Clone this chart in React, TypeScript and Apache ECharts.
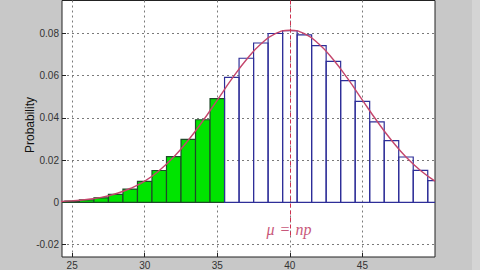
import React, { useEffect, useRef } from "react";
import * as echarts from "echarts";

// Outcomes k and their probabilities (bars)
const kValues = [24, 25, 26, 27, 28, 29, 30, 31, 32, 33, 34, 35, 36, 37, 38, 39, 40, 41, 42, 43, 44, 45, 46, 47, 48, 49, 50];
const barProbs = [0.0003, 0.0006, 0.0012, 0.0022, 0.0038, 0.0063, 0.0100, 0.0151, 0.0217, 0.0298, 0.0391, 0.0491, 0.0591, 0.0682, 0.0754, 0.0799, 0.0812, 0.0792, 0.0742, 0.0667, 0.0576, 0.0478, 0.0381, 0.0292, 0.0215, 0.0152, 0.0103];
// Smooth approximation curve values at the same k
const curveVals = [0.0004, 0.00075, 0.0014, 0.0024, 0.0041, 0.0066, 0.0101, 0.0151, 0.0215, 0.0294, 0.0385, 0.0484, 0.0584, 0.0675, 0.0749, 0.0798, 0.0814, 0.0798, 0.0749, 0.0675, 0.0584, 0.0484, 0.0385, 0.0294, 0.0215, 0.0151, 0.0101];
const shadedUpTo = 35;
const meanValue = 40;
const xTickLabels = [25, 30, 35, 40, 45];
const yTickLabels = [-0.02, 0, 0.02, 0.04, 0.06, 0.08];
const xMin = 24.3;
const xMax = 50;
const yMin = -0.0258;
const yMax = 0.0955;

export default function App() {
  const ref = useRef<HTMLDivElement>(null);
  useEffect(() => {
    if (!ref.current) return;
    const chart = echarts.init(ref.current, null, { renderer: "svg" });
    const barData = kValues.map((k, i) => [k, barProbs[i]]);
    const curveData = kValues.map((k, i) => [k, curveVals[i]]);
    const labelFont = { fontFamily: "Liberation Sans", fontSize: 10, color: "#333" };
    chart.setOption({
      animation: false,
      backgroundColor: "#c8c8c8",
      grid: {
        left: 62,
        top: 0.5,
        width: 373,
        height: 257,
        show: true,
        backgroundColor: "#ffffff",
        borderColor: "#222",
        borderWidth: 1,
        containLabel: false,
      },
      xAxis: {
        type: "value",
        min: xMin,
        max: xMax,
        axisLine: { show: false, onZero: false },
        axisTick: { show: true, inside: true, length: 4, lineStyle: { color: "#222" }, customValues: xTickLabels },
        axisLabel: { ...labelFont, margin: 3, customValues: xTickLabels },
        splitLine: { show: true, lineStyle: { color: "#7a7a7a", type: [2, 3], width: 1 } },
      },
      yAxis: {
        type: "value",
        min: yMin,
        max: yMax,
        axisLine: { show: false, onZero: false },
        axisTick: { show: true, inside: true, length: 4, lineStyle: { color: "#222" }, customValues: yTickLabels },
        axisLabel: { ...labelFont, margin: 3, customValues: yTickLabels, formatter: (v: number) => String(Math.round(v * 100) / 100) },
        splitLine: { show: true, lineStyle: { color: "#7a7a7a", type: [2, 3], width: 1 } },
      },
      series: [
        {
          type: "custom",
          clip: true,
          data: barData,
          renderItem: (params: any, api: any) => {
            const k = api.value(0);
            const v = api.value(1);
            const p0 = api.coord([k - 0.5, v]);
            const p1 = api.coord([k + 0.5, 0]);
            const shaded = k <= shadedUpTo;
            return {
              type: "rect",
              shape: { x: p0[0], y: p0[1], width: p1[0] - p0[0], height: p1[1] - p0[1] },
              style: {
                fill: shaded ? "#00e400" : "none",
                stroke: shaded ? "#1f4a2a" : "#2e2e98",
                lineWidth: 1.2,
              },
            };
          },
          z: 2,
        },
        {
          type: "line",
          data: curveData,
          smooth: true,
          showSymbol: false,
          clip: true,
          lineStyle: { color: "#c4466c", width: 1.4 },
          z: 3,
          markLine: {
            silent: true,
            symbol: "none",
            label: { show: false },
            lineStyle: { color: "#d0304f", type: [4, 3], width: 1 },
            data: [[{ coord: [meanValue, yMax] }, { coord: [meanValue, -0.016] }]],
          },
        },
      ],
      graphic: [
        { type: "rect", left: 472, top: 0, shape: { width: 8, height: 270 }, style: { fill: "#d4d4d4" } },
        {
          type: "text",
          x: 30,
          y: 125,
          rotation: Math.PI / 2,
          style: {
            text: "Probability",
            align: "center",
            verticalAlign: "middle",
            fontFamily: "Liberation Sans",
            fontSize: 12,
            fill: "#111",
          },
        },
        {
          type: "text",
          x: 289,
          y: 229,
          style: {
            text: "{i|μ}{e|=}{i|np}",
            align: "center",
            verticalAlign: "middle",
            rich: {
              i: { fontFamily: "Liberation Serif", fontStyle: "italic", fontSize: 16, fill: "#c8587a" },
              e: { fontFamily: "Liberation Serif", fontSize: 16, fill: "#c8587a", padding: [0, 6, 0, 6] },
            },
          },
        },
      ],
    });
    return () => chart.dispose();
  }, []);
  return <div ref={ref} style={{ position: "fixed", left: 0, top: 0, width: 480, height: 270 }} />;
}
